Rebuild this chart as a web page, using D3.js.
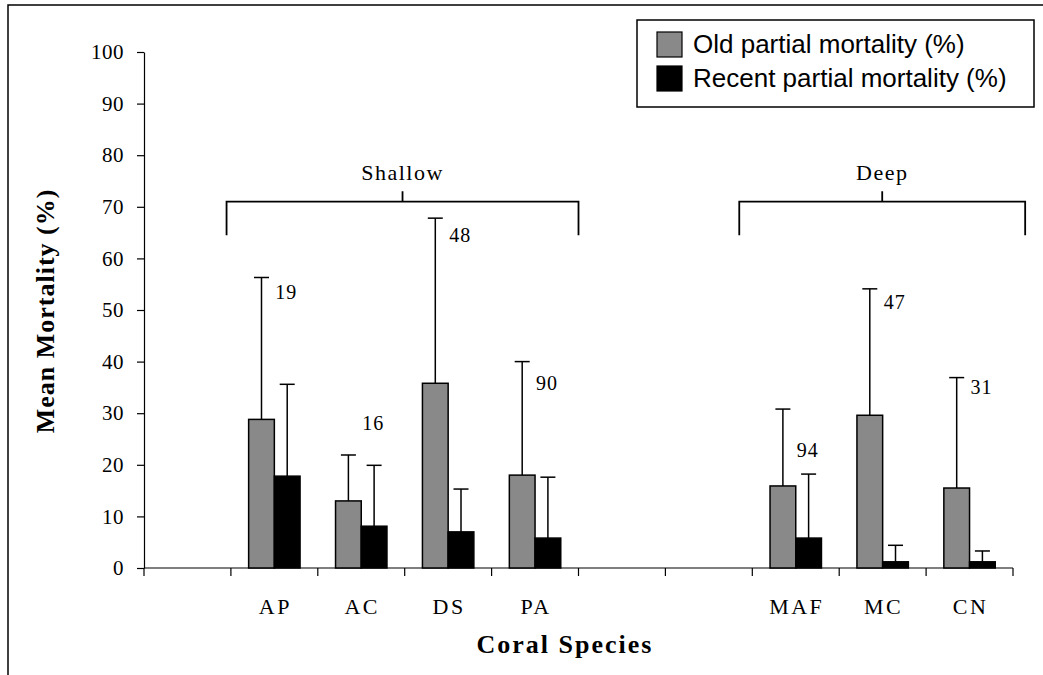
<!DOCTYPE html>
<html>
<head>
<meta charset="utf-8">
<script src="https://cdn.jsdelivr.net/npm/d3@7"></script>
<style>
  html, body { margin: 0; padding: 0; background: #fff; }
  svg { display: block; }
  .serif { font-family: "Liberation Serif", "Times New Roman", serif; }
</style>
</head>
<body>
<div id="chart"></div>
<script>
// x slots (blank slots are the empty gaps on the axis)
const categories = ["", "AP", "AC", "DS", "PA", "", "", "MAF", "MC", "CN"];
const species = ["AP", "AC", "DS", "PA", "MAF", "MC", "CN"];
const oldMean = [28.8, 13.0, 35.8, 18.0, 15.9, 29.6, 15.5];
const oldSD = [27.5, 8.9, 32.0, 22.0, 14.9, 24.5, 21.4];
const recentMean = [17.8, 8.1, 7.0, 5.8, 5.8, 1.2, 1.2];
const recentSD = [17.8, 11.8, 8.3, 11.8, 12.4, 3.2, 2.1];
const sampleSize = [19, 16, 48, 90, 94, 47, 31];
const sampleLabelAt = [52.2, 26.7, 63.1, 34.4, 21.5, 50.1, 33.8];
const yTicks = [0, 10, 20, 30, 40, 50, 60, 70, 80, 90, 100];
const groupNames = ["Shallow", "Deep"];
const groupFrom = [0.95, 6.85];
const groupTo = [5.0, 10.14];
const seriesNames = ["Old partial mortality (%)", "Recent partial mortality (%)"];

const width = 1043, height = 675;
const GREY = '#898989';

const svg = d3.select('#chart').append('svg')
  .attr('width', width)
  .attr('height', height);

// outer frame (cut off on the right and bottom)
svg.append('rect')
  .attr('x', 8).attr('y', 5)
  .attr('width', 1200).attr('height', 800)
  .attr('fill', 'none').attr('stroke', '#000').attr('stroke-width', 1.5);

const x = d3.scaleBand().domain(d3.range(categories.length)).range([144, 1013]);
const xLin = d3.scaleLinear().domain([0, categories.length]).range([144, 1013]);
const y = d3.scaleLinear().domain([0, 100]).range([568, 52]);
const xs = d3.scaleBand().domain(['old', 'recent']).range([0, x.bandwidth()]).paddingOuter(0.69);

// y axis
const yAxis = svg.append('g')
  .attr('transform', 'translate(144,0)')
  .call(d3.axisLeft(y).tickValues(yTicks).tickSize(7).tickPadding(13).tickSizeOuter(0));
yAxis.select('.domain').attr('stroke', '#000').attr('stroke-width', 1.2);
yAxis.selectAll('line').attr('stroke', '#000').attr('stroke-width', 1.2);
yAxis.selectAll('text')
  .attr('class', 'serif')
  .attr('font-size', 21)
  .attr('fill', '#000')
  .attr('letter-spacing', 0.5);

// x axis line and boundary ticks
const xAxis = svg.append('g').attr('transform', `translate(0,${y(0)})`);
xAxis.append('line')
  .attr('x1', 144).attr('x2', 1013)
  .attr('stroke', '#000').attr('stroke-width', 1.2);
xAxis.selectAll('line.tick')
  .data(d3.range(categories.length + 1))
  .join('line')
  .attr('class', 'tick')
  .attr('x1', d => xLin(d)).attr('x2', d => xLin(d))
  .attr('y1', 0).attr('y2', 8)
  .attr('stroke', '#000').attr('stroke-width', 1.2);
xAxis.selectAll('text')
  .data(categories.map((c, i) => ({ c, i })).filter(d => d.c))
  .join('text')
  .attr('class', 'serif')
  .attr('x', d => x(d.i) + x.bandwidth() / 2 + 1)
  .attr('y', 46)
  .attr('text-anchor', 'middle')
  .attr('font-size', 22)
  .attr('letter-spacing', 2.5)
  .text(d => d.c);

// bars
const rows = species.map((s, i) => ({
  slot: categories.indexOf(s),
  old: oldMean[i], oldSD: oldSD[i],
  recent: recentMean[i], recentSD: recentSD[i],
  n: sampleSize[i], nAt: sampleLabelAt[i]
}));

const barData = [];
rows.forEach(r => {
  barData.push({ slot: r.slot, key: 'old', v: r.old, sd: r.oldSD, fill: GREY });
  barData.push({ slot: r.slot, key: 'recent', v: r.recent, sd: r.recentSD, fill: '#000' });
});

const bars = svg.append('g');
// error bars drawn first so the bars sit over the stems
bars.selectAll('line.err')
  .data(barData)
  .join('line')
  .attr('class', 'err')
  .attr('x1', d => x(d.slot) + xs(d.key) + xs.bandwidth() / 2)
  .attr('x2', d => x(d.slot) + xs(d.key) + xs.bandwidth() / 2)
  .attr('y1', d => y(d.v))
  .attr('y2', d => y(d.v + d.sd))
  .attr('stroke', '#000').attr('stroke-width', 1.5);
bars.selectAll('line.cap')
  .data(barData)
  .join('line')
  .attr('class', 'cap')
  .attr('x1', d => x(d.slot) + xs(d.key) + xs.bandwidth() / 2 - 7.5)
  .attr('x2', d => x(d.slot) + xs(d.key) + xs.bandwidth() / 2 + 7.5)
  .attr('y1', d => y(d.v + d.sd))
  .attr('y2', d => y(d.v + d.sd))
  .attr('stroke', '#000').attr('stroke-width', 1.5);
bars.selectAll('rect')
  .data(barData)
  .join('rect')
  .attr('x', d => x(d.slot) + xs(d.key))
  .attr('y', d => y(d.v))
  .attr('width', xs.bandwidth())
  .attr('height', d => y(0) - y(d.v))
  .attr('fill', d => d.fill)
  .attr('stroke', '#000').attr('stroke-width', 1.5);

// sample sizes
svg.append('g').selectAll('text')
  .data(rows)
  .join('text')
  .attr('class', 'serif')
  .attr('x', d => x(d.slot) + x.bandwidth() / 2 + 1)
  .attr('y', d => y(d.nAt))
  .attr('font-size', 20)
  .attr('letter-spacing', 1)
  .text(d => d.n);

// depth brackets
const bracketLevel = 71, bracketEnd = 64.5, bracketTop = 73;
groupNames.forEach((g, i) => {
  const x0 = xLin(groupFrom[i]), x1 = xLin(groupTo[i]), xm = (x0 + x1) / 2;
  svg.append('path')
    .attr('d', `M${x0},${y(bracketEnd)}V${y(bracketLevel)}H${x1}V${y(bracketEnd)}M${xm},${y(bracketLevel)}V${y(bracketTop)}`)
    .attr('fill', 'none').attr('stroke', '#000').attr('stroke-width', 1.8);
  svg.append('text')
    .attr('class', 'serif')
    .attr('x', xm).attr('y', y(bracketLevel) - 22)
    .attr('text-anchor', 'middle')
    .attr('font-size', 22)
    .attr('letter-spacing', 1.5)
    .text(g);
});

// axis titles
svg.append('text')
  .attr('class', 'serif')
  .attr('transform', 'translate(54,311) rotate(-90)')
  .attr('text-anchor', 'middle')
  .attr('font-size', 26)
  .attr('font-weight', 'bold')
  .attr('letter-spacing', 1)
  .text('Mean Mortality (%)');
svg.append('text')
  .attr('class', 'serif')
  .attr('x', 565).attr('y', 653)
  .attr('text-anchor', 'middle')
  .attr('font-size', 26)
  .attr('font-weight', 'bold')
  .attr('letter-spacing', 2)
  .text('Coral Species');

// legend
const legend = svg.append('g');
legend.append('rect')
  .attr('x', 637).attr('y', 20).attr('width', 397).attr('height', 87)
  .attr('fill', '#fff').attr('stroke', '#000').attr('stroke-width', 1.5);
seriesNames.forEach((s, i) => {
  legend.append('rect')
    .attr('x', 657).attr('y', 32 + i * 34).attr('width', 25).attr('height', 25)
    .attr('fill', i === 0 ? GREY : '#000')
    .attr('stroke', '#000').attr('stroke-width', 1.2);
  legend.append('text')
    .attr('x', 693).attr('y', 53 + i * 34)
    .attr('font-family', '"Liberation Sans", Arial, sans-serif')
    .attr('font-size', 26)
    .text(s);
});
</script>
</body>
</html>
